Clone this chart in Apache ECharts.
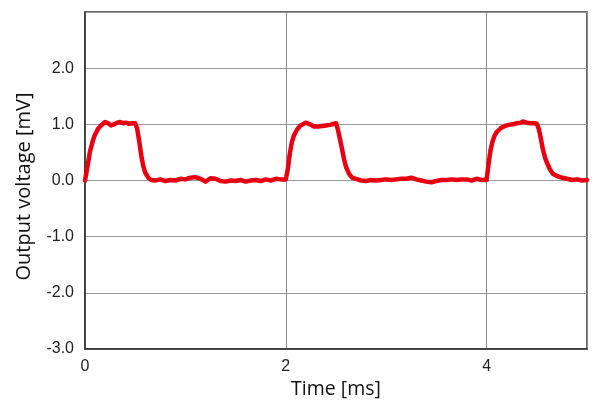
<!DOCTYPE html>
<html><head><meta charset="utf-8">
<script src="https://cdn.jsdelivr.net/npm/echarts@6/dist/echarts.min.js"></script>
<style>html,body{margin:0;padding:0;background:#fff}#c{width:600px;height:406px}</style>
</head><body><div id="c"></div>
<script>
const times = [0,0.02,0.05,0.08,0.1,0.13,0.16,0.2,0.23,0.26,0.29,0.32,0.35,0.38,0.41,0.44,0.47,0.5,0.52,0.54,0.56,0.58,0.6,0.63,0.66,0.7,0.75,0.8,0.85,0.9,0.95,1.0,1.05,1.1,1.15,1.2,1.25,1.3,1.35,1.4,1.45,1.5,1.55,1.6,1.65,1.7,1.75,1.8,1.85,1.9,1.95,2.0,2.02,2.04,2.06,2.08,2.11,2.14,2.17,2.2,2.24,2.28,2.32,2.36,2.4,2.44,2.48,2.5,2.52,2.55,2.58,2.6,2.63,2.66,2.7,2.75,2.8,2.85,2.9,2.95,3.0,3.05,3.1,3.15,3.2,3.25,3.3,3.35,3.4,3.45,3.5,3.55,3.6,3.65,3.7,3.75,3.8,3.85,3.9,3.95,4.0,4.02,4.04,4.06,4.08,4.1,4.14,4.18,4.22,4.26,4.3,4.34,4.36,4.4,4.44,4.48,4.5,4.52,4.54,4.56,4.58,4.6,4.63,4.66,4.7,4.75,4.8,4.85,4.9,4.95,5.0];
const voltages = [0,0.2,0.52,0.72,0.82,0.92,0.98,1.04,1.02,0.98,1.0,1.03,1.04,1.02,1.03,1.01,1.02,1.02,0.92,0.7,0.45,0.26,0.14,0.05,0.01,0.0,0.02,-0.01,0.01,0.0,0.03,0.02,0.05,0.06,0.03,-0.02,0.04,0.03,-0.01,-0.02,0.0,-0.01,0.01,-0.02,0.0,0.01,-0.01,0.02,0.0,0.03,0.02,0.02,0.2,0.48,0.68,0.8,0.9,0.97,1.0,1.03,1.0,0.96,0.96,0.97,0.98,0.99,1.01,1.02,0.9,0.65,0.38,0.24,0.12,0.05,0.03,0.0,-0.01,0.01,0.0,0.01,0.02,0.01,0.02,0.03,0.03,0.05,0.02,0.0,-0.02,-0.03,-0.01,0.01,0.01,0.02,0.01,0.02,0.02,0.0,0.03,0.01,0.01,0.3,0.55,0.7,0.8,0.86,0.93,0.97,0.99,1.0,1.02,1.03,1.05,1.03,1.02,1.02,1.01,0.92,0.75,0.56,0.42,0.32,0.2,0.12,0.08,0.05,0.03,0.01,0.02,0.0,0.01];
const xAxisName = 'Time [ms]';
const yAxisName = 'Output voltage [mV]';

const chart = echarts.init(document.getElementById('c'));
const font = 'Liberation Sans, Arial, sans-serif';
const nameFont = 'Open Sans, sans-serif';
chart.setOption({
  animation: false,
  grid: {left: 85, right: 13, top: 12, bottom: 57, show: true, borderColor: '#333', borderWidth: 1.5},
  xAxis: {
    type: 'value', min: 0, max: 5, interval: 2,
    name: xAxisName, nameLocation: 'middle', nameGap: 28,
    nameTextStyle: {fontFamily: nameFont, fontSize: 19.5, color: '#111'},
    axisLine: {show: true, onZero: false, lineStyle: {color: '#333', width: 1.5}},
    axisTick: {show: false},
    axisLabel: {fontFamily: font, fontSize: 16, color: '#222', margin: 10, showMaxLabel: false},
    splitLine: {show: true, lineStyle: {color: '#888', width: 1}}
  },
  yAxis: {
    type: 'value', min: -3, max: 3, interval: 1,
    name: yAxisName, nameLocation: 'middle', nameGap: 51,
    nameTextStyle: {fontFamily: nameFont, fontSize: 20, color: '#111', padding: [0, 12, 0, 0]},
    axisLine: {show: true, onZero: false, lineStyle: {color: '#333', width: 1.5}},
    axisTick: {show: false},
    axisLabel: {fontFamily: font, fontSize: 16, color: '#222', margin: 11, showMaxLabel: false,
      formatter: v => v.toFixed(1)},
    splitLine: {show: true, lineStyle: {color: '#999', width: 1}}
  },
  series: [{
    type: 'line', showSymbol: false,
    data: times.map((t, i) => [t, voltages[i]]),
    lineStyle: {color: '#e60012', width: 4.5, join: 'round', cap: 'round'},
    itemStyle: {color: '#e60012'}
  }]
});
</script></body></html>
